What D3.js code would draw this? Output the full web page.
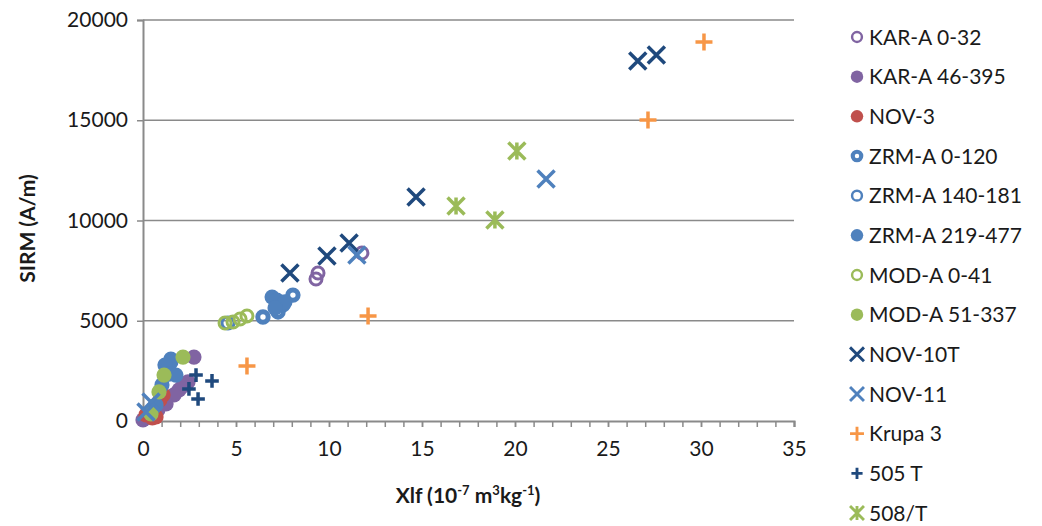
<!DOCTYPE html>
<html>
<head>
<meta charset="utf-8">
<script src="https://cdn.jsdelivr.net/npm/d3@7"></script>
<style>
  html, body { margin: 0; padding: 0; background: #fff; }
  svg { display: block; }
  text { font-family: Lato, "Open Sans", sans-serif; fill: #1a1a1a; }
</style>
</head>
<body>
<svg id="chart" width="1042" height="526"></svg>
<script>
// ---- data ----
const xTicks = [0, 5, 10, 15, 20, 25, 30, 35];
const yTicks = [0, 5000, 10000, 15000, 20000];

const karA032 = [[9.41, 7380], [9.30, 7080], [11.77, 8380]];
const karA46395 = [[2.74, 3190], [2.42, 1950], [1.94, 1550], [2.15, 1750], [1.67, 1300], [1.24, 850], [0.8, 550], [0.27, 200], [0.0, 50]];
const nov3 = [[1.08, 1300], [0.91, 1050], [0.7, 200], [0.16, 300], [0.5, 150]];
const zrmA0120 = [[6.45, 5190], [7.26, 5440], [7.53, 5790], [8.06, 6280]];
const zrmA140181 = [[4.57, 4890], [0.6, 700]];
const zrmA219477 = [[6.94, 6180], [7.2, 6030], [7.63, 5940], [7.1, 5640], [1.5, 3090], [1.5, 2940], [1.18, 2790], [1.4, 2340], [1.77, 2290], [1.02, 1800], [0.7, 800]];
const modA041 = [[4.41, 4890], [4.84, 4940], [5.22, 5090], [5.59, 5240]];
const modA51337 = [[2.15, 3190], [1.13, 2290], [0.86, 1450], [0.43, 350]];
const nov10T = [[26.6, 17960], [27.6, 18250], [14.68, 11170], [9.89, 8230], [11.08, 8880], [7.9, 7380]];
const nov11 = [[21.67, 12070], [11.5, 8280], [0.43, 950], [0.16, 450]];
const krupa3 = [[30.16, 18900], [27.15, 15010], [12.1, 5240], [5.59, 2740]];
const t505 = [[2.85, 2290], [3.71, 2000], [2.47, 1600], [2.96, 1100]];
const t508 = [[20.1, 13470], [16.83, 10720], [18.92, 10020]];

const seriesNames = ["KAR-A 0-32", "KAR-A 46-395", "NOV-3", "ZRM-A 0-120", "ZRM-A 140-181", "ZRM-A 219-477",
  "MOD-A 0-41", "MOD-A 51-337", "NOV-10T", "NOV-11", "Krupa 3", "505 T", "508/T"];
const seriesData = [karA032, karA46395, nov3, zrmA0120, zrmA140181, zrmA219477, modA041, modA51337, nov10T, nov11, krupa3, t505, t508];
const seriesColors = ["#8064A2", "#8064A2", "#C0504D", "#4F81BD", "#4F81BD", "#4F81BD",
  "#9BBB59", "#9BBB59", "#1F497D", "#4F81BD", "#F79646", "#1F497D", "#9BBB59"];
const seriesShapes = ["ring", "dot", "dot", "thickring", "ring", "dot", "ring", "dot", "x", "x", "plus", "smallplus", "star"];

// ---- layout ----
const svg = d3.select("#chart");
const padL = 143, padR = 794, padT = 20, padB = 421;
const x = d3.scaleLinear().domain([0, 35]).range([padL, padR]);
const y = d3.scaleLinear().domain([0, 20000]).range([padB, padT]);
const axisColor = "#8a8a8a";

// gridlines
svg.append("g").selectAll("line").data(yTicks.filter(d => d > 0)).join("line")
  .attr("x1", padL).attr("x2", padR)
  .attr("y1", d => y(d)).attr("y2", d => y(d))
  .attr("stroke", axisColor).attr("stroke-width", 1.5);

// y axis
const yAxis = svg.append("g").attr("transform", `translate(${padL},0)`)
  .call(d3.axisLeft(y).tickValues(yTicks).tickSize(6).tickPadding(9).tickFormat(d3.format("d")));
yAxis.select(".domain").attr("stroke", axisColor).attr("stroke-width", 2);
yAxis.selectAll(".tick line").attr("stroke", axisColor).attr("stroke-width", 1.5);
yAxis.selectAll("text").style("font-family", "Lato, sans-serif").style("font-size", "21px").attr("fill", "#1a1a1a");

// x axis minor ticks
const xMinor = d3.range(0, 36, 1);
svg.append("g").attr("transform", `translate(0,${padB})`)
  .call(d3.axisBottom(x).tickValues(xMinor).tickSize(6).tickFormat(""))
  .call(g => g.select(".domain").remove())
  .selectAll(".tick line").attr("stroke", axisColor).attr("stroke-width", 1.5);
const xAxis = svg.append("g").attr("transform", `translate(0,${padB})`)
  .call(d3.axisBottom(x).tickValues(xTicks).tickSize(6).tickPadding(14));
xAxis.select(".domain").attr("stroke", axisColor).attr("stroke-width", 2);
xAxis.selectAll(".tick line").attr("stroke", axisColor).attr("stroke-width", 1.5);
xAxis.selectAll("text").style("font-family", "Lato, sans-serif").style("font-size", "21px").attr("fill", "#1a1a1a");

// axis titles
svg.append("text")
  .attr("transform", `translate(35,${(padT + padB) / 2 + 8}) rotate(-90)`)
  .attr("text-anchor", "middle").style("font-weight", "bold").style("font-size", "21px")
  .text("SIRM (A/m)");

const xt = svg.append("text").attr("x", 468).attr("y", 503).attr("text-anchor", "middle")
  .style("font-weight", "bold").style("font-size", "21px");
xt.append("tspan").text("Xlf (10");
xt.append("tspan").attr("dy", -8).style("font-size", "13px").text("-7");
xt.append("tspan").attr("dy", 8).text(" m");
xt.append("tspan").attr("dy", -8).style("font-size", "13px").text("3");
xt.append("tspan").attr("dy", 8).text("kg");
xt.append("tspan").attr("dy", -8).style("font-size", "13px").text("-1");
xt.append("tspan").attr("dy", 8).text(")");

// marker drawing
function drawMarker(g, shape, color, cx, cy, s) {
  if (shape === "dot") {
    g.append("circle").attr("cx", cx).attr("cy", cy).attr("r", 7.6 * s).attr("fill", color);
  } else if (shape === "ring") {
    g.append("circle").attr("cx", cx).attr("cy", cy).attr("r", 6 * s)
      .attr("fill", "none").attr("stroke", color).attr("stroke-width", 3 * s);
  } else if (shape === "thickring") {
    g.append("circle").attr("cx", cx).attr("cy", cy).attr("r", 5.2 * s)
      .attr("fill", "none").attr("stroke", color).attr("stroke-width", 5 * s);
  } else if (shape === "x") {
    const h = 8.5 * s;
    g.append("path").attr("d", `M${cx - h},${cy - h}L${cx + h},${cy + h}M${cx - h},${cy + h}L${cx + h},${cy - h}`)
      .attr("stroke", color).attr("stroke-width", 3.5 * s).attr("fill", "none");
  } else if (shape === "plus" || shape === "smallplus") {
    const h = (shape === "plus" ? 8.5 : 6.8) * s;
    g.append("path").attr("d", `M${cx - h},${cy}L${cx + h},${cy}M${cx},${cy - h}L${cx},${cy + h}`)
      .attr("stroke", color).attr("stroke-width", 3.5 * s).attr("fill", "none");
  } else if (shape === "star") {
    const h = 8.5 * s;
    g.append("path").attr("d", `M${cx - h},${cy - h}L${cx + h},${cy + h}M${cx - h},${cy + h}L${cx + h},${cy - h}M${cx},${cy - h}L${cx},${cy + h}`)
      .attr("stroke", color).attr("stroke-width", 3.5 * s).attr("fill", "none");
  }
}

// points (series order = draw order)
const plot = svg.append("g");
seriesData.forEach((data, i) => {
  const g = plot.append("g").attr("class", "series");
  data.forEach(d => drawMarker(g, seriesShapes[i], seriesColors[i], x(d[0]), y(d[1]), 1));
});

// legend
const legend = svg.append("g");
const legY = d3.scaleLinear().domain([0, seriesNames.length - 1]).range([37, 513]);
seriesNames.forEach((name, i) => {
  const cy = legY(i);
  drawMarker(legend, seriesShapes[i], seriesColors[i], 857, cy, 0.82);
  legend.append("text").attr("x", 869).attr("y", cy + 7.5)
    .style("font-size", "21px").text(name);
});
</script>
</body>
</html>
